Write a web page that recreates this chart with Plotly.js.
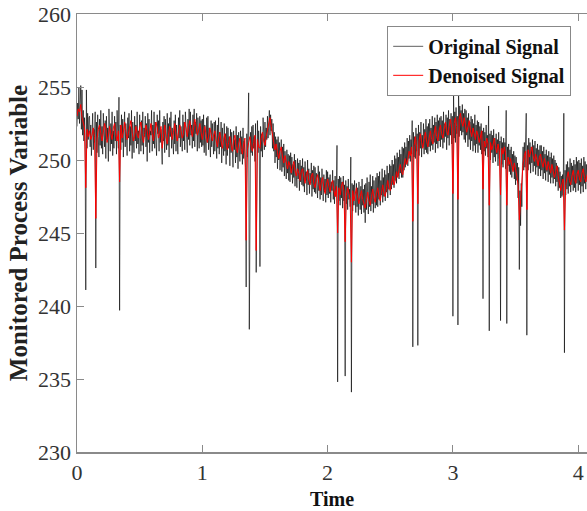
<!DOCTYPE html>
<html>
<head>
<meta charset="utf-8">
<script src="https://cdn.plot.ly/plotly-3.0.1.min.js"></script>
<style>html,body{margin:0;padding:0;background:#fff;}#chart{width:587px;height:511px;}</style>
</head>
<body>
<div id="chart"></div>
<script>
// Time sampling of each series (start, step)
const originalStart = 0, originalStep = 0.005;
const denoisedStart = 0, denoisedStep = 0.01;

// Original (noisy) signal; one row per 0.1 time units
const originalSignal = [
252.3,253.9,252.8,255.0,252.5,253.8,255.1,252.1,254.8,251.7,253.4,251.3,252.9,250.9,241.1,254.8,250.8,253.2,251.4,252.9,
253.0,250.9,252.4,250.3,251.9,253.2,250.7,252.1,251.2,253.3,242.6,252.6,250.5,253.1,251.6,250.2,252.8,251.0,253.4,250.8,
252.3,250.4,253.2,251.7,250.9,252.7,250.1,253.0,251.4,252.2,249.9,253.5,251.8,250.6,252.5,251.1,253.3,250.3,252.0,250.8,
253.0,251.3,252.6,250.4,253.4,251.6,250.8,254.3,239.7,252.4,250.7,253.1,251.2,252.8,250.2,252.1,253.3,250.9,252.5,251.5,
250.3,252.9,251.5,253.2,250.6,252.3,251.0,253.4,250.1,252.6,251.7,250.5,253.0,251.3,252.4,250.8,253.3,251.1,252.0,250.4,
253.1,251.4,250.6,252.7,251.0,253.3,250.4,252.2,251.6,253.0,250.9,252.5,249.9,253.2,251.2,252.8,250.5,252.0,251.7,253.4,
250.6,252.4,251.1,253.3,250.8,252.6,251.5,250.3,253.1,251.8,252.7,250.6,253.4,251.2,252.1,250.9,249.7,252.6,251.3,253.0,
250.5,252.8,251.4,250.7,253.2,251.0,252.5,250.2,252.9,251.6,253.3,250.8,252.2,251.3,250.4,252.7,251.1,253.1,250.6,252.4,
251.2,250.4,252.9,251.5,253.4,250.9,252.3,251.7,250.6,253.1,251.3,252.6,250.7,253.3,251.8,252.1,250.5,252.8,251.4,253.5,
251.0,253.3,251.7,252.4,250.8,253.1,251.3,253.5,250.9,252.6,251.8,253.2,250.6,252.9,251.5,250.8,253.0,251.2,252.7,250.9,
252.8,251.0,253.1,250.5,252.4,251.6,250.3,252.9,251.2,253.0,250.7,252.2,251.4,250.2,252.7,250.9,252.5,251.3,250.4,252.6,
250.6,252.7,251.2,250.1,252.4,250.8,252.9,250.4,251.9,250.9,252.6,249.8,252.2,251.0,250.3,252.5,250.6,251.8,249.7,252.3,
250.3,252.2,250.8,251.6,249.6,252.1,250.5,251.9,250.1,249.5,252.0,250.7,251.4,249.8,252.3,250.2,251.7,249.4,251.9,250.6,
249.9,252.0,250.4,251.6,249.7,252.2,250.1,251.3,250.6,249.5,241.3,251.8,250.2,252.1,254.6,238.4,250.0,251.9,250.5,252.3,
250.3,252.4,250.8,251.6,249.9,252.5,242.3,251.1,252.7,250.5,252.0,250.9,242.7,252.3,250.6,251.8,250.2,252.9,251.3,250.7,
252.6,250.9,252.2,251.4,253.0,251.5,252.4,253.4,251.7,253.1,252.0,252.8,250.8,252.5,250.6,251.9,249.8,251.6,250.2,251.4,
249.4,251.6,250.0,251.2,249.3,250.8,251.4,249.2,250.9,249.5,251.1,248.9,250.6,249.8,248.7,250.7,249.1,250.4,248.6,250.3,
248.5,250.5,249.0,250.2,248.4,249.7,248.8,250.4,248.2,250.0,249.3,248.1,250.1,248.7,249.8,247.9,250.0,248.5,249.6,248.3,
250.1,248.2,249.5,247.8,249.9,248.6,249.2,247.6,250.0,248.3,249.4,247.7,249.1,248.4,249.8,247.5,249.3,248.0,249.6,247.8,
249.5,247.7,249.1,248.3,247.4,249.6,247.9,249.2,247.3,248.8,247.6,249.4,248.0,247.2,249.0,247.8,248.7,247.1,249.3,247.6,
249.2,247.4,248.8,247.7,249.0,247.1,248.5,247.9,249.3,247.3,248.6,247.0,248.9,247.5,248.3,251.0,234.8,248.7,247.2,248.9,
246.9,248.8,247.4,248.5,246.7,248.9,247.2,248.3,235.2,248.6,247.0,248.2,246.6,248.7,247.3,248.0,246.8,250.2,234.1,248.4,
246.5,248.3,246.9,248.6,247.2,246.4,248.4,246.8,248.1,246.2,248.5,247.0,246.6,248.2,246.3,248.7,246.9,248.0,246.4,248.3,
245.7,248.4,246.6,248.8,247.1,246.3,248.5,246.8,249.0,246.5,248.2,247.0,248.9,246.4,248.6,247.2,246.7,248.8,246.9,249.1,
246.8,248.9,247.3,249.2,246.9,248.6,247.6,249.4,247.1,248.8,247.5,249.3,247.2,249.0,247.8,249.6,247.4,249.1,248.0,249.7,
247.6,249.6,248.0,250.0,248.3,249.7,248.1,250.3,248.6,250.1,248.4,250.5,248.9,250.2,248.7,250.7,249.1,250.4,248.8,250.9,
248.8,250.8,249.3,251.2,249.5,250.9,249.8,251.5,249.6,251.3,250.1,251.7,249.9,251.4,250.4,252.7,237.2,251.9,250.2,251.6,
250.1,252.2,250.6,251.8,237.3,252.4,250.3,251.9,250.8,252.6,250.2,251.7,250.9,252.5,250.4,252.1,250.7,252.8,250.5,252.3,
250.4,252.5,250.9,252.8,250.6,252.2,251.0,253.0,250.7,252.4,251.2,252.9,250.5,252.6,251.1,253.1,250.8,252.7,251.3,252.9,
250.9,253.0,251.4,252.7,250.8,253.3,251.2,252.5,251.6,253.1,250.7,252.9,251.5,253.4,251.0,252.8,251.7,253.2,251.1,253.0,
239.3,254.5,251.5,253.3,251.2,253.6,251.8,253.0,238.7,254.9,251.6,253.7,252.0,253.4,251.7,253.8,251.9,253.2,251.4,253.5,
251.2,253.4,251.7,252.9,250.9,253.2,251.4,252.6,250.7,253.0,251.3,252.8,250.6,252.5,251.0,253.1,250.5,252.4,251.1,252.7,
250.5,252.6,251.0,252.3,250.7,252.5,250.4,252.0,240.5,252.2,250.6,251.9,250.3,252.4,250.8,251.7,250.2,253.7,238.3,251.8,
250.0,252.0,250.5,251.7,249.8,252.1,250.2,251.5,249.9,251.8,250.4,251.4,249.6,251.9,250.1,251.3,239.0,251.6,249.7,251.2,
249.5,251.5,250.0,251.2,249.4,253.4,238.8,250.9,249.6,251.1,249.2,250.7,249.0,250.9,248.8,250.4,249.3,250.6,248.7,250.3,
248.3,250.2,248.6,249.8,247.4,249.5,242.5,247.9,245.5,248.4,246.8,249.6,250.9,249.3,251.2,249.5,250.8,253.2,238.0,251.0,
249.3,251.5,249.7,251.2,249.1,250.9,249.8,251.4,249.2,251.0,249.6,251.3,249.0,250.8,249.5,251.1,248.9,250.7,249.4,251.0,
248.9,251.0,249.3,250.6,248.7,250.9,249.1,250.4,248.6,250.7,249.2,250.3,248.5,250.6,249.0,250.2,248.4,250.5,248.8,250.1,
248.4,250.3,248.7,250.0,248.2,249.8,248.5,249.6,247.9,249.5,248.1,249.2,247.4,248.9,247.5,249.0,247.6,253.2,236.8,249.3,
247.6,249.7,248.0,249.9,247.7,249.5,248.2,250.1,247.8,249.8,248.3,249.6,247.9,250.0,248.1,249.7,247.8,250.2,248.4,249.9,
247.9,250.0,248.3,249.8,247.7,250.1,248.2,249.6,247.8,250.2,248.4,249.9,248.0,249.7,248.5
];

// Denoised signal; one row per 0.1 time units
const denoisedSignal = [
253.0,253.5,253.3,253.8,252.9,252.5,252.2,248.1,252.1,251.6,
252.0,251.4,251.7,252.2,251.6,246.0,251.5,252.1,252.4,251.8,
251.3,251.9,252.5,252.1,251.2,251.6,252.3,251.8,251.4,252.2,
252.5,251.7,251.3,252.0,248.5,252.4,251.5,251.9,252.6,252.0,
251.4,251.8,252.4,252.7,251.9,251.3,251.6,252.3,251.8,251.5,
252.2,252.6,251.7,251.2,251.8,252.4,252.0,251.4,251.9,252.5,
251.8,251.3,251.9,252.6,252.2,251.5,251.8,252.3,250.8,251.9,
252.4,251.6,251.1,251.7,252.3,252.0,251.4,251.9,252.5,251.8,
251.3,251.9,252.4,252.0,251.5,251.8,252.6,252.2,251.6,252.3,
252.7,252.1,251.6,252.2,252.8,252.3,251.7,252.0,252.5,251.9,
251.4,251.9,252.3,251.7,251.2,251.6,252.2,251.8,251.3,251.7,
252.0,251.4,250.9,251.5,251.9,251.3,250.8,251.4,251.8,251.2,
250.7,251.2,251.6,251.0,250.6,251.3,251.7,250.9,250.5,251.1,
251.5,250.8,250.4,251.1,251.5,244.5,250.7,251.2,251.6,250.9,
250.6,251.2,251.7,243.8,251.4,250.9,250.8,251.5,251.9,251.3,
251.0,251.6,252.1,252.6,252.9,252.3,251.6,251.2,250.7,251.1,
250.5,250.1,250.6,250.9,250.2,249.8,250.3,249.9,249.4,249.9,
249.6,249.1,249.5,249.9,249.3,248.9,249.4,249.1,248.6,249.2,
249.4,248.7,248.4,249.0,249.3,248.6,248.3,248.9,249.1,248.4,
248.1,248.7,249.0,248.4,247.9,248.5,248.8,248.1,247.7,248.3,
248.7,248.2,247.8,248.4,248.6,247.9,247.5,248.2,245.0,248.1,
247.6,248.2,248.5,247.9,244.4,247.6,248.1,247.7,247.3,243.0,
247.9,247.2,247.6,248.1,247.4,247.0,247.5,247.9,247.3,246.9,
246.7,247.3,247.8,247.2,246.9,247.5,248.0,247.4,247.1,247.7,
248.1,247.5,247.2,247.8,248.3,247.7,247.5,248.1,248.6,248.0,
247.9,248.4,248.9,248.3,248.6,249.2,248.8,249.3,249.7,249.2,
249.0,249.6,250.1,249.7,250.0,250.6,250.3,250.9,245.8,251.0,
251.6,250.9,247.0,251.3,251.8,251.2,250.8,251.4,251.9,251.3,
250.9,251.5,252.0,251.4,251.1,251.8,252.3,251.6,251.3,252.0,
252.4,251.8,251.5,252.1,252.6,252.0,251.7,252.3,252.8,252.2,
247.7,252.5,252.9,252.3,247.3,252.8,253.2,252.6,252.3,252.9,
252.5,251.9,252.3,252.7,252.0,251.6,252.2,251.8,251.4,252.0,
251.7,251.2,251.6,252.0,248.0,251.3,250.9,251.5,251.1,246.9,
251.2,250.7,251.0,251.5,250.9,250.5,251.1,250.6,247.6,250.8,
250.4,250.9,250.5,246.9,250.2,249.7,250.1,249.6,249.2,249.8,
249.4,248.9,248.3,245.9,247.2,248.6,249.8,250.3,250.6,246.6,
250.7,250.2,250.5,250.9,250.3,249.9,250.4,250.0,249.6,250.2,
250.4,249.8,249.5,250.1,249.7,249.3,249.9,249.5,249.1,249.7,
249.3,248.8,249.2,249.6,248.9,248.3,247.9,248.4,248.7,245.2,
248.3,248.8,249.2,248.6,248.3,248.9,249.3,248.7,248.4,249.0,
249.3,248.7,248.5,249.1,249.4,248.8,248.5,249.0
];

const seriesNames = ["Original Signal", "Denoised Signal"];
const xTickValues = [0, 1, 2, 3, 4];
const yTickValues = [230, 235, 240, 245, 250, 255, 260];
const xLabel = "Time";
const yLabel = "Monitored Process Variable";

const originalTime = originalSignal.map((_, i) => +(originalStart + i * originalStep).toFixed(3));
const denoisedTime = denoisedSignal.map((_, i) => +(denoisedStart + i * denoisedStep).toFixed(3));

const serif = "Liberation Serif, Times New Roman, serif";

const traces = [
  {
    x: originalTime, y: originalSignal, type: "scatter", mode: "lines",
    name: seriesNames[0],
    line: {color: "rgba(0,0,0,0.9)", width: 0.7}
  },
  {
    x: denoisedTime, y: denoisedSignal, type: "scatter", mode: "lines",
    name: seriesNames[1],
    line: {color: "#ff0000", width: 1.0}
  }
];

const axisColor = "#8a8a8a";

const layout = {
  width: 587, height: 511,
  margin: {l: 77, r: 0, t: 14, b: 59},
  paper_bgcolor: "#ffffff", plot_bgcolor: "#ffffff",
  showlegend: true,
  legend: {
    x: 0.969, y: 0.973, xanchor: "right", yanchor: "top",
    bgcolor: "#ffffff", bordercolor: "#888888", borderwidth: 1,
    font: {family: serif, size: 20, color: "#111111", weight: "bold"},
    tracegroupgap: 0, itemwidth: 30
  },
  xaxis: {
    range: [0, 4.07], tickvals: xTickValues, ticktext: xTickValues.map(String),
    ticks: "inside", ticklen: 7, tickwidth: 1, tickcolor: axisColor,
    showline: true, linecolor: axisColor, linewidth: 1.5, mirror: "ticks",
    showgrid: false, zeroline: false,
    tickfont: {family: serif, size: 22, color: "#333333"},
    title: {text: xLabel, font: {family: serif, size: 20, color: "#111111", weight: "bold"}, standoff: 8}
  },
  yaxis: {
    range: [230, 260], tickvals: yTickValues, ticktext: yTickValues.map(String),
    ticks: "inside", ticklen: 7, tickwidth: 1, tickcolor: axisColor,
    showline: true, linecolor: axisColor, linewidth: 1.5, mirror: false,
    showgrid: false, zeroline: false,
    tickfont: {family: serif, size: 22, color: "#333333"},
    title: {text: yLabel, font: {family: serif, size: 25, color: "#222222", weight: "bold"}, standoff: 3}
  }
};

Plotly.newPlot("chart", traces, layout, {staticPlot: true, displayModeBar: false});
</script>
</body>
</html>
